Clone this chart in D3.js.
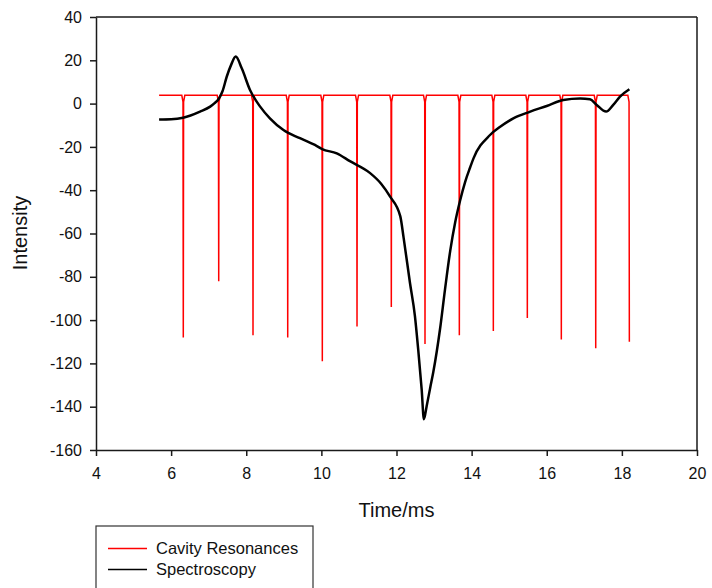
<!DOCTYPE html>
<html>
<head>
<meta charset="utf-8">
<script src="https://cdn.jsdelivr.net/npm/d3@7"></script>
<style>
  html, body { margin: 0; padding: 0; background: #fff; }
  svg { display: block; font-family: "Liberation Sans", Arial, sans-serif; }
</style>
</head>
<body>
<svg id="chart" width="712" height="588"></svg>
<script>
// ---- data ----
const xTicks = [4, 6, 8, 10, 12, 14, 16, 18, 20];
const yTicks = [40, 20, 0, -20, -40, -60, -80, -100, -120, -140, -160];

// Cavity Resonances: flat baseline with sharp resonance dips
const cavityStart = 5.68;
const cavityBaseline = 3.8;
const cavityNotch = 0.8;
const resonanceTimes = [6.324, 7.267, 8.180, 9.104, 10.025, 10.949, 11.862, 12.759, 13.673, 14.578, 15.483, 16.388, 17.304, 18.199];
const resonanceDepths = [-108, -82, -107, -108, -119, -103, -94, -111, -107, -105, -99, -109, -113, -110];

// Spectroscopy trace
const specTimes = [5.68, 6.0, 6.32, 6.77, 7.04, 7.15, 7.26, 7.37, 7.48, 7.60, 7.72, 7.88, 8.10, 8.37, 8.63, 8.99, 9.43, 9.88, 10.02, 10.41, 10.76, 11.29, 11.59, 11.83, 12.10, 12.19, 12.36, 12.49, 12.58, 12.67, 12.73, 12.80, 12.90, 12.98, 13.16, 13.29, 13.43, 13.56, 13.69, 13.83, 13.96, 14.05, 14.49, 14.76, 15.11, 15.56, 16.00, 16.44, 16.89, 17.15, 17.33, 17.58, 17.77, 17.95, 18.20];
const specValues = [-7.3, -7.2, -6.5, -3.7, -1.4, 0.1, 2.0, 5.8, 12.4, 18.0, 21.7, 16.3, 6.3, -1.4, -6.8, -12.2, -16.0, -19.6, -21.0, -23.0, -26.6, -32.0, -37.0, -43.0, -52.0, -62.0, -83.0, -98.0, -114.0, -132.0, -145.8, -140.0, -131.0, -124.0, -104.0, -86.0, -68.0, -55.0, -45.0, -36.0, -29.5, -25.3, -14.5, -10.7, -6.8, -3.7, -1.1, 1.7, 2.4, 2.0, -0.6, -3.7, -0.6, 3.2, 6.6];

const seriesNames = ["Cavity Resonances", "Spectroscopy"];
const seriesColors = ["#ff0000", "#000000"];

// ---- layout ----
const plotLeft = 96, plotRight = 697, plotTop = 17, plotBottom = 450;
const svg = d3.select("#chart");

const x = d3.scaleLinear().domain([4, 20]).range([plotLeft, plotRight]);
const y = d3.scaleLinear().domain([-160, 40]).range([plotBottom, plotTop]);

const axisColor = "#1a1a1a";

// frame (top & right)
svg.append("line").attr("x1", plotLeft).attr("x2", plotRight).attr("y1", plotTop).attr("y2", plotTop)
  .attr("stroke", axisColor).attr("stroke-width", 1.5);
svg.append("line").attr("x1", plotRight).attr("x2", plotRight).attr("y1", plotTop).attr("y2", plotBottom)
  .attr("stroke", axisColor).attr("stroke-width", 1.5);

// axes
const xAxis = svg.append("g").attr("transform", `translate(0,${plotBottom})`)
  .call(d3.axisBottom(x).tickValues(xTicks).tickSize(6).tickSizeOuter(0).tickPadding(12).tickFormat(d3.format("d")));
const yAxis = svg.append("g").attr("transform", `translate(${plotLeft},0)`)
  .call(d3.axisLeft(y).tickValues(yTicks).tickSize(6).tickSizeOuter(0).tickPadding(8).tickFormat(d => d));

[xAxis, yAxis].forEach(g => {
  g.select(".domain").attr("stroke", axisColor).attr("stroke-width", 1.5);
  g.selectAll(".tick line").attr("stroke", axisColor).attr("stroke-width", 1.5);
  g.selectAll(".tick text").attr("fill", "#111").style("font-size", "16px")
    .style("font-family", "'Liberation Sans', Arial, sans-serif");
});
xAxis.selectAll(".tick text").attr("dy", "0.71em");

// axis titles
svg.append("text").attr("x", (plotLeft + plotRight) / 2).attr("y", 517)
  .attr("text-anchor", "middle").attr("fill", "#111").style("font-size", "20px").text("Time/ms");
svg.append("text").attr("transform", `translate(27,233) rotate(-90)`)
  .attr("text-anchor", "middle").attr("fill", "#111").style("font-size", "20px").text("Intensity");

// ---- cavity resonance trace ----
const cavityPts = [[cavityStart, cavityBaseline]];
resonanceTimes.forEach((t, i) => {
  cavityPts.push([t - 0.04, cavityBaseline]);
  cavityPts.push([t - 0.008, cavityNotch]);
  cavityPts.push([t, resonanceDepths[i]]);
  if (i < resonanceTimes.length - 1) {
    cavityPts.push([t + 0.008, cavityNotch]);
    cavityPts.push([t + 0.04, cavityBaseline]);
  }
});
const lineGen = d3.line().x(d => x(d[0])).y(d => y(d[1]));
svg.append("path").datum(cavityPts).attr("d", lineGen)
  .attr("fill", "none").attr("stroke", seriesColors[0]).attr("stroke-width", 1.5)
  .attr("stroke-linejoin", "miter");

// ---- spectroscopy trace ----
const specPts = specTimes.map((t, i) => [t, specValues[i]]);
svg.append("path").datum(specPts)
  .attr("d", d3.line().x(d => x(d[0])).y(d => y(d[1])).curve(d3.curveMonotoneX))
  .attr("fill", "none").attr("stroke", seriesColors[1]).attr("stroke-width", 2.5)
  .attr("stroke-linejoin", "round");

// ---- legend ----
const lg = svg.append("g");
lg.append("rect").attr("x", 96).attr("y", 526).attr("width", 217).attr("height", 80)
  .attr("fill", "none").attr("stroke", "#333").attr("stroke-width", 1.2);
seriesNames.forEach((name, i) => {
  const cy = 548.5 + i * 21;
  lg.append("line").attr("x1", 108).attr("x2", 147).attr("y1", cy).attr("y2", cy)
    .attr("stroke", seriesColors[i]).attr("stroke-width", 1.5);
  lg.append("text").attr("x", 156).attr("y", cy + 5.8).attr("fill", "#111")
    .style("font-size", "16.5px").text(name);
});
</script>
</body>
</html>
